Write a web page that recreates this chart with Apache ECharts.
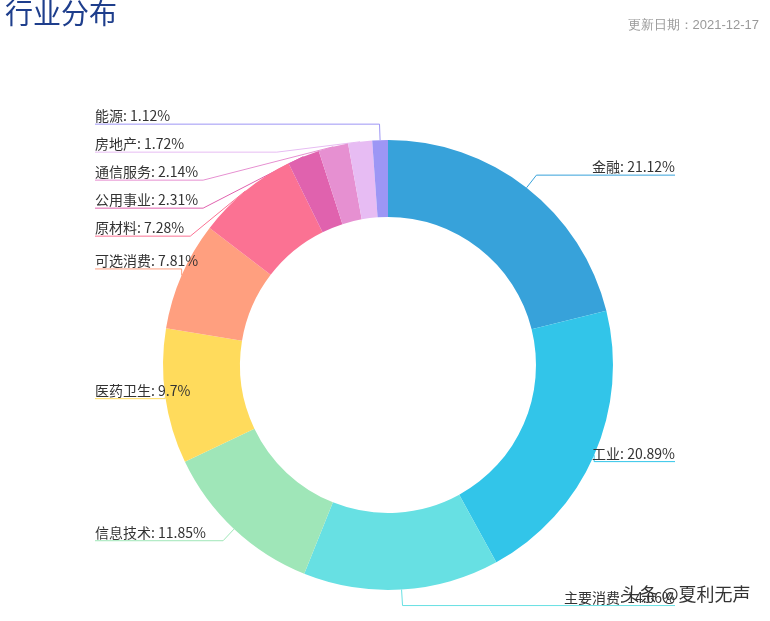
<!DOCTYPE html>
<html><head><meta charset="utf-8">
<script src="https://cdn.jsdelivr.net/npm/echarts@6/dist/echarts.min.js"></script>
<style>html,body{margin:0;background:#fff}#main{width:770px;height:621px}</style>
</head><body><div id="main"></div>
<script>
const industries = ['金融','工业','主要消费','信息技术','医药卫生','可选消费','原材料','公用事业','通信服务','房地产','能源'];
const weights = [21.12,20.89,14.06,11.85,9.7,7.81,7.28,2.31,2.14,1.72,1.12];
const colors = ['#37a2da','#32c5e9','#67e0e3','#9fe6b8','#ffdb5c','#ff9f7f','#fb7293','#e062ae','#e690d1','#e7bcf3','#9d96f5'];

const chart = echarts.init(document.getElementById('main'));
const option = {
    color: colors,
    title: [
        { text: '行业分布', left: 0, top: -6, textStyle: { color: '#1e3e8c', fontSize: 28, fontWeight: 'normal', fontFamily: 'Noto Sans CJK SC' } },
        { text: '更新日期：2021-12-17', right: 6, top: 14, textStyle: { color: '#999', fontSize: 13, fontWeight: 'normal' } }
    ],
    graphic: [{
        type: 'text', right: 18, bottom: 16,
        style: { text: '头条 @夏利无声', fill: '#333', fontSize: 18, fontFamily: 'Noto Sans CJK SC', stroke: '#fff', lineWidth: 3 }
    }],
    series: [{
        type: 'pie',
        center: [388, 365],
        radius: [148, 225],
        data: industries.map((n, i) => ({ name: n, value: weights[i] })),
        label: {
            formatter: '{b}: {c}%',
            color: '#333',
            fontSize: 14,
            fontFamily: 'Noto Sans CJK SC',
            overflow: 'none',
            alignTo: 'edge',
            edgeDistance: 95,
            minMargin: 14
        },
        labelLine: { length: 16, length2: 20, lineStyle: { width: 1 } },
        labelLayout: function (params) {
            const r = params.labelRect;
            const isLeft = r.x < chart.getWidth() / 2;
            const points = params.labelLinePoints;
            if (points) {
                points[2][0] = isLeft ? r.x : r.x + r.width;
            }
            return { labelLinePoints: points, dy: -r.height / 2 - 1 };
        }
    }]
};
option && chart.setOption(option);
</script></body></html>
